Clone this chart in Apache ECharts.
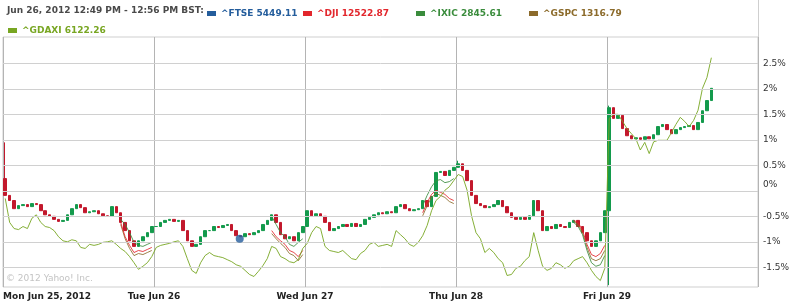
<!DOCTYPE html>
<html><head><meta charset="utf-8">
<script src="https://cdn.jsdelivr.net/npm/echarts@6/dist/echarts.min.js"></script>
<style>html,body{margin:0;padding:0;background:#fff}#c{width:794px;height:301px}</style>
</head><body><div id="c"></div>
<script>
// ---- axis / labels ----
const SLOTS_PER_DAY = 34; // 15-minute slots, 08:00-16:30 BST
const US_START_SLOT = 26; // 14:30 BST
const dayLabels = ['Mon Jun 25, 2012', 'Tue Jun 26', 'Wed Jun 27', 'Thu Jun 28', 'Fri Jun 29'];
const yTickValues = [2.5, 2, 1.5, 1, 0.5, 0, -0.5, -1, -1.5];
const yMin = -1.886, yMax = 3.016;
const headerText = 'Jun 26, 2012 12:49 PM - 12:56 PM BST:';
const legendNames = ['^FTSE', '^DJI', '^IXIC', '^GSPC', '^GDAXI'];
const legendValues = ['5449.11', '12522.87', '2845.61', '1316.79', '6122.26'];
const copyright = '\u00A9 2012 Yahoo! Inc.';

// ---- ^FTSE candles: close (% change) per 15-min slot ----
const ftseFirstOpen = 0.24;
const ftseMon = [-0.09,-0.19,-0.35,-0.29,-0.27,-0.31,-0.25,-0.27,-0.39,-0.47,-0.50,-0.56,-0.60,-0.58,-0.47,-0.35,-0.27,-0.33,-0.43,-0.41,-0.39,-0.45,-0.49,-0.50,-0.31,-0.43,-0.62,-0.78,-0.98,-1.09,-0.98,-0.90,-0.82,-0.70];
const ftseTue = [-0.70,-0.62,-0.58,-0.56,-0.60,-0.58,-0.78,-0.98,-1.09,-1.05,-0.90,-0.78,-0.78,-0.70,-0.72,-0.68,-0.66,-0.78,-0.88,-0.90,-0.84,-0.86,-0.82,-0.78,-0.66,-0.58,-0.47,-0.62,-0.86,-0.94,-0.90,-0.98,-0.82,-0.70];
const ftseWed = [-0.39,-0.49,-0.45,-0.50,-0.62,-0.78,-0.74,-0.70,-0.66,-0.70,-0.64,-0.70,-0.66,-0.56,-0.52,-0.47,-0.43,-0.45,-0.41,-0.43,-0.31,-0.27,-0.35,-0.39,-0.37,-0.35,-0.19,-0.31,-0.11,0.36,0.38,0.30,0.40,0.46];
const ftseThu = [0.53,0.40,0.20,-0.09,-0.25,-0.29,-0.33,-0.31,-0.27,-0.19,-0.31,-0.43,-0.52,-0.56,-0.52,-0.56,-0.49,-0.19,-0.39,-0.78,-0.70,-0.74,-0.66,-0.70,-0.72,-0.62,-0.58,-0.70,-0.82,-0.98,-1.09,-0.98,-0.82,-0.39];
const ftseFri = [1.63,1.42,1.48,1.22,1.08,1.02,1.04,1.01,1.06,1.02,1.10,1.26,1.30,1.20,1.12,1.20,1.24,1.26,1.28,1.20,1.34,1.57,1.77,2.01];
// wick extremes that go beyond open/close: [day, slot, low, high]
const ftseWicks = [[0, 0, -0.09, 0.95], [3, 0, 0.46, 0.59], [4, 0, -1.85, 1.67]];
const hoverPoint = [2 * 0 + 34 + 19.3, -0.94];

// ---- ^GDAXI line ----
const daxMon = [-0.15,-0.62,-0.74,-0.76,-0.70,-0.74,-0.54,-0.47,-0.62,-0.70,-0.72,-0.78,-0.90,-0.98,-1.00,-0.96,-0.98,-1.11,-1.13,-1.05,-1.07,-1.05,-1.01,-1.00,-0.98,-1.05,-1.13,-1.19,-1.29,-1.41,-1.54,-1.48,-1.41,-1.29];
const daxTue = [-1.11,-1.07,-1.05,-1.03,-1.00,-0.98,-1.09,-1.33,-1.56,-1.62,-1.41,-1.27,-1.21,-1.27,-1.29,-1.31,-1.35,-1.39,-1.45,-1.48,-1.56,-1.64,-1.68,-1.58,-1.47,-1.33,-1.09,-1.13,-1.29,-1.33,-1.39,-1.41,-1.35,-1.13];
const daxWed = [-1.03,-0.82,-0.70,-0.74,-1.09,-1.17,-1.19,-1.21,-1.17,-1.25,-1.33,-1.35,-1.23,-1.17,-1.05,-1.01,-1.09,-1.07,-1.05,-1.09,-0.78,-0.86,-0.94,-1.05,-1.09,-1.01,-0.88,-0.68,-0.39,-0.19,-0.11,0.01,0.08,0.20];
const daxThu = [0.32,0.28,0.01,-0.49,-0.82,-0.94,-1.21,-1.13,-1.21,-1.33,-1.41,-1.66,-1.64,-1.52,-1.48,-1.37,-1.29,-0.82,-1.17,-1.48,-1.56,-1.52,-1.41,-1.45,-1.52,-1.48,-1.37,-1.33,-1.29,-1.41,-1.56,-1.68,-1.76,-1.52];
const daxFri = [1.42,1.50,1.50,1.36,1.22,1.12,1.02,0.80,0.95,0.73,0.96,0.99,0.99,0.99,1.14,1.30,1.44,1.36,1.26,1.38,1.58,2.01,2.22,2.61];

// ---- US indices (14:30-16:30 BST overlap), Mon..Thu ----
const djiDays = [
  [-0.62,-0.90,-1.07,-1.21,-1.17,-1.19,-1.15,-1.11],
  [-0.78,-0.90,-0.98,-1.05,-1.17,-1.21,-1.29,-1.17],
  [-0.43,-0.23,-0.07,0.01,-0.03,-0.07,-0.15,-0.19],
  [-0.58,-0.62,-0.78,-1.05,-1.25,-1.29,-1.23,-1.07]
];
const ixicDays = [
  [-0.56,-0.66,-0.82,-1.01,-1.07,-1.09,-1.05,-1.01],
  [-0.50,-0.66,-0.82,-0.90,-1.05,-1.09,-1.01,-0.94],
  [-0.29,-0.09,0.08,0.20,0.22,0.16,0.18,0.24],
  [-0.62,-0.70,-0.86,-1.17,-1.41,-1.48,-1.45,-1.27]
];
const gspcDays = [
  [-0.66,-0.94,-1.13,-1.27,-1.23,-1.25,-1.21,-1.17],
  [-0.84,-0.94,-1.03,-1.11,-1.23,-1.27,-1.37,-1.25],
  [-0.49,-0.29,-0.13,-0.05,-0.09,-0.13,-0.21,-0.25],
  [-0.60,-0.66,-0.82,-1.11,-1.33,-1.37,-1.33,-1.17]
];

// ---- colours ----
const cFTSE = '#245d9c', cDJI = '#e2262c', cIXIC = '#3a8c3c', cGSPC = '#8c6b2b', cDAX = '#78a622';
const legendColors = [cFTSE, cDJI, cIXIC, cGSPC, cDAX];
const candleUp = '#139a4c', candleDown = '#c2182c';

// ---- build series data ----
const ftseDays = [ftseMon, ftseTue, ftseWed, ftseThu, ftseFri];
const candleData = [];
let prev = ftseFirstOpen;
ftseDays.forEach((arr, d) => arr.forEach((c, i) => {
  const o = prev;
  let lo = Math.min(o, c), hi = Math.max(o, c);
  ftseWicks.forEach(w => { if (w[0] === d && w[1] === i) { lo = Math.min(lo, w[2]); hi = Math.max(hi, w[3]); } });
  candleData.push([d * SLOTS_PER_DAY + i + 0.5, o, c, lo, hi]);
  prev = c;
}));
const daxData = [];
[daxMon, daxTue, daxWed, daxThu, daxFri].forEach((arr, d) => arr.forEach((v, i) => daxData.push([d * SLOTS_PER_DAY + i + 0.5, v])));
function usLine(days) {
  const out = [];
  days.forEach((arr, d) => {
    arr.forEach((v, i) => out.push([d * SLOTS_PER_DAY + US_START_SLOT + i + 0.5, v]));
    out.push([d * SLOTS_PER_DAY + SLOTS_PER_DAY, null]);
  });
  return out;
}

const FONT = '"DejaVu Sans", Verdana, sans-serif';
const graphics = [];
graphics.push({type: 'text', left: 7, top: 6, style: {text: headerText, fill: '#4a4a4a', font: 'bold 9px ' + FONT}});
const legendPos = [[207, 11], [303, 11], [416, 11], [529, 11], [8, 28]];
legendNames.forEach((n, k) => {
  const p = legendPos[k];
  graphics.push({type: 'rect', shape: {x: p[0], y: p[1], width: 9, height: 5}, style: {fill: legendColors[k]}});
  graphics.push({type: 'text', x: p[0] + 14, y: p[1] + 2.5, style: {text: n + ' ' + legendValues[k], fill: legendColors[k], font: 'bold 9px ' + FONT, verticalAlign: 'middle'}});
});
graphics.push({type: 'text', x: 6, y: 279, style: {text: copyright, fill: '#c4c4c4', font: '9px ' + FONT, verticalAlign: 'middle'}});
graphics.push({type: 'line', shape: {x1: 758.5, y1: 0, x2: 758.5, y2: 37}, style: {stroke: '#cfcfcf', lineWidth: 1}});

const chart = echarts.init(document.getElementById('c'), null, {renderer: 'canvas'});
chart.setOption({
  animation: false,
  backgroundColor: '#fff',
  grid: {left: 3, right: 36, top: 37, bottom: 14, show: true, borderColor: '#cfcfcf', borderWidth: 1},
  xAxis: {
    type: 'value', min: 0, max: SLOTS_PER_DAY * 5, interval: SLOTS_PER_DAY,
    axisLine: {show: false}, axisTick: {show: false},
    splitLine: {show: true, lineStyle: {color: '#b4b4b4', width: 1}},
    axisLabel: {
      formatter: v => dayLabels[Math.round(v / SLOTS_PER_DAY)] || '',
      showMaxLabel: false, alignMinLabel: 'left',
      color: '#222', fontWeight: 'bold', fontSize: 9, fontFamily: FONT, margin: 5
    }
  },
  yAxis: {
    type: 'value', position: 'right', min: yMin, max: yMax,
    axisLine: {show: false}, axisTick: {show: false}, splitLine: {show: false}, axisLabel: {show: false}
  },
  graphic: graphics,
  series: [
    {
      type: 'line', data: [], z: 1, silent: true,
      markLine: {
        silent: true, symbol: 'none', animation: false,
        lineStyle: {color: '#d0d0d0', width: 1, type: 'solid'},
        label: {position: 'end', distance: 5, color: '#333', fontSize: 9, fontFamily: FONT,
                formatter: p => p.value + '%'},
        data: yTickValues.map(v => ({yAxis: v, label: v === 0 ? {offset: [0, -6]} : {}}))
      }
    },
    {
      type: 'candlestick', name: '^FTSE', data: candleData, barWidth: 3, z: 3,
      itemStyle: {color: candleUp, color0: candleDown, borderColor: candleUp, borderColor0: candleDown, borderWidth: 1}
    },
    {type: 'line', name: '^GSPC', data: usLine(gspcDays), showSymbol: false, z: 4, lineStyle: {color: cGSPC, width: 1, opacity: 0.85}},
    {type: 'line', name: '^DJI', data: usLine(djiDays), showSymbol: false, z: 4, lineStyle: {color: cDJI, width: 1, opacity: 0.85}},
    {type: 'line', name: '^IXIC', data: usLine(ixicDays), showSymbol: false, z: 4, lineStyle: {color: cIXIC, width: 1, opacity: 0.85}},
    {type: 'line', name: '^GDAXI', data: daxData, showSymbol: false, z: 4, lineStyle: {color: cDAX, width: 1, opacity: 0.9}},
    {type: 'scatter', data: [hoverPoint], symbolSize: 8, z: 6, itemStyle: {color: cFTSE}}
  ]
});
</script></body></html>
